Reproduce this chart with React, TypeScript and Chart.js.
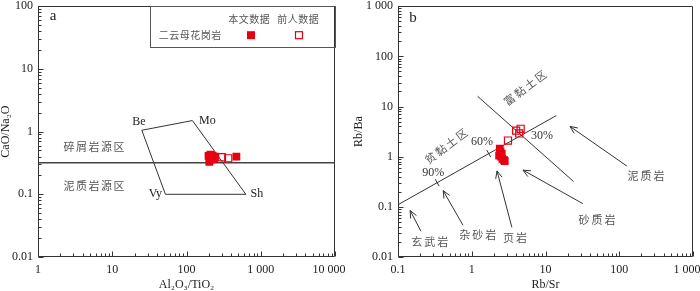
import React, { useEffect, useRef } from 'react';
import { Chart, registerables } from 'chart.js';

Chart.register(...registerables);

const RED = '#e60012';
const SERIF = '"Liberation Serif", "Times New Roman", serif';
const CJK = '"Noto Sans CJK SC", "Noto Sans", sans-serif';
const INK = '#222';
const GREYTXT = '#555';

// ---------- Panel a : CaO/Na2O vs Al2O3/TiO2 ----------
const aMajorX = [1, 10, 100, 1000, 10000];
const aXLabels = ['1', '10', '100', '1 000', '10 000'];
const aMajorY = [0.01, 0.1, 1, 10, 100];
const aYLabels = ['0.01', '0.1', '1', '10', '100'];
const aOwnX = [198, 210, 225, 205, 245, 215, 203, 235, 470];
const aOwnY = [0.41, 0.43, 0.41, 0.38, 0.40, 0.36, 0.33, 0.37, 0.40];
const aPrevX = [300, 365];
const aPrevY = [0.39, 0.375];
const aBoundaryX = [1, 10000];
const aBoundaryY = [0.32, 0.32];
const polyNames = ['Be', 'Mo', 'Sh', 'Vy'];
const polyX = [25, 120, 630, 52];
const polyY = [1.05, 1.5, 0.1, 0.1];
const aZoneNames = ['碎屑岩源区', '泥质岩源区'];
const aZoneX = [5.7, 5.7];
const aZoneY = [0.58, 0.136];
const legendHead = ['本文数据', '前人数据'];
const legendRow = '二云母花岗岩';

// ---------- Panel b : Rb/Ba vs Rb/Sr ----------
const bMajorX = [0.1, 1, 10, 100, 1000];
const bXLabels = ['0.1', '1', '10', '100', '1 000'];
const bMajorY = [0.01, 0.1, 1, 10, 100, 1000];
const bYLabels = ['0.01', '0.1', '1', '10', '100', '1 000'];
const bOwnX = [2.4, 2.45, 2.35, 2.5, 2.6, 2.75, 2.8, 2.55];
const bOwnY = [1.45, 1.25, 1.05, 1.0, 0.9, 0.85, 0.82, 1.15];
const bPrevX = [3.1, 4.0, 4.6, 4.4];
const bPrevY = [2.1, 3.3, 3.6, 2.9];
const mixX = [0.1, 14];
const mixY = [0.11, 6.6];
const clayX = [1.2, 24];
const clayY = [16, 0.32];
const pctLabels = ['90%', '60%', '30%'];
const pctX = [0.30, 1.38, 8.97];
const pctY = [0.475, 1.94, 2.55];
const pctTickX = [0.34, 1.7];
const rockNames = ['玄武岩', '杂砂岩', '页岩', '砂质岩', '泥质岩'];
const rockLabelX = [0.27, 1.21, 3.86, 50, 230];
const rockLabelY = [0.02, 0.028, 0.0237, 0.054, 0.41];
const arrowFromX = [0.205, 0.76, 3.5, 32, 127];
const arrowFromY = [0.0326, 0.043, 0.039, 0.116, 0.65];
const arrowToX = [0.146, 0.41, 2.2, 4.95, 21.5];
const arrowToY = [0.0845, 0.21, 0.52, 0.54, 4.0];
const clayZoneNames = ['贫黏土区', '富黏土区'];
const clayZoneX = [0.448, 5.27];
const clayZoneY = [1.62, 23.6];

// ---------- helpers ----------
function logTicks(majors: number[]) {
  const out: number[] = [];
  for (let i = 0; i < majors.length - 1; i++) {
    for (let k = 1; k < 10; k++) out.push(parseFloat((majors[i] * k).toPrecision(6)));
  }
  out.push(majors[majors.length - 1]);
  return out;
}
function majorIndex(v: number, majors: number[]) {
  return majors.findIndex((m) => Math.abs(m - v) / m < 1e-6);
}
function pts(xs: number[], ys: number[]) {
  return xs.map((x, i) => ({ x, y: ys[i] }));
}
function onLogLine(xs: number[], ys: number[], x: number) {
  const t = (Math.log10(x) - Math.log10(xs[0])) / (Math.log10(xs[1]) - Math.log10(xs[0]));
  return Math.pow(10, Math.log10(ys[0]) + t * (Math.log10(ys[1]) - Math.log10(ys[0])));
}

function axis(majors: number[], labels: string[], title: string, vertical: boolean, size: number) {
  return {
    type: 'logarithmic',
    min: majors[0],
    max: majors[majors.length - 1],
    grid: { display: false, drawTicks: false },
    border: { display: false },
    afterBuildTicks: (s: any) => {
      s.ticks = logTicks(majors).map((value) => ({ value }));
    },
    afterFit: (s: any) => {
      if (vertical) {
        s.width = size;
        s.paddingTop = 0;
        s.paddingBottom = 0;
      } else {
        s.height = size;
        s.paddingLeft = 0;
        s.paddingRight = 0;
      }
    },
    ticks: {
      autoSkip: false,
      maxRotation: 0,
      minRotation: 0,
      padding: vertical ? 5 : 6,
      color: INK,
      font: { family: SERIF, size: 12 },
      callback: (v: any) => {
        const i = majorIndex(Number(v), majors);
        if (i < 0) return '';
        // last horizontal label is pulled inward so it stays inside the frame
        return !vertical && i === majors.length - 1 ? labels[i] + '\u2002\u2002' : labels[i];
      },
    },
    title: {
      display: true,
      text: title,
      color: INK,
      padding: 0,
      font: { family: SERIF, size: 12, lineHeight: 1 },
    },
  };
}

function drawFrame(chart: any, xMaj: number[], yMaj: number[]) {
  const { ctx, chartArea: ca } = chart;
  const sx = chart.scales.x;
  const sy = chart.scales.y;
  const L = Math.round(ca.left) + 0.5;
  const R = Math.round(ca.right) - 0.5;
  const T = Math.round(ca.top) + 0.5;
  const B = Math.round(ca.bottom) - 0.5;
  ctx.save();
  ctx.strokeStyle = '#333';
  ctx.lineWidth = 1;
  ctx.beginPath();
  ctx.rect(L, T, R - L, B - T);
  sx.ticks.forEach((t: any) => {
    const p = Math.round(sx.getPixelForValue(t.value)) + 0.5;
    const len = majorIndex(t.value, xMaj) >= 0 ? 5 : 3;
    ctx.moveTo(p, B);
    ctx.lineTo(p, B - len);
  });
  sy.ticks.forEach((t: any) => {
    const p = Math.round(sy.getPixelForValue(t.value)) + 0.5;
    const len = majorIndex(t.value, yMaj) >= 0 ? 5 : 3;
    ctx.moveTo(L, p);
    ctx.lineTo(L + len, p);
  });
  ctx.stroke();
  ctx.restore();
}

function cjkText(ctx: any, text: string, x: number, y: number, size: number, spacing: number, color = GREYTXT) {
  ctx.save();
  ctx.font = `${size}px ${CJK}`;
  ctx.fillStyle = color;
  ctx.textAlign = 'left';
  ctx.textBaseline = 'middle';
  try { ctx.letterSpacing = `${spacing}px`; } catch (e) { /* ignore */ }
  const w = ctx.measureText(text).width - spacing;
  ctx.fillText(text, x - w / 2, y);
  ctx.restore();
}

const panelAPlugin = {
  id: 'panelA',
  afterDraw(chart: any) {
    const { ctx, chartArea: ca } = chart;
    const sx = chart.scales.x;
    const sy = chart.scales.y;
    drawFrame(chart, aMajorX, aMajorY);
    ctx.save();
    ctx.fillStyle = INK;
    ctx.font = `15px ${SERIF}`;
    ctx.textAlign = 'center';
    ctx.textBaseline = 'alphabetic';
    ctx.fillText('a', ca.left + 15, ca.top + 14);

    const dx = [-3, 15, 11, -10];
    const dy = [-8, 0, 0, 0];
    ctx.font = `12px ${SERIF}`;
    ctx.textBaseline = 'middle';
    polyNames.forEach((n, i) => {
      ctx.fillText(n, sx.getPixelForValue(polyX[i]) + dx[i], sy.getPixelForValue(polyY[i]) + dy[i]);
    });
    ctx.restore();

    aZoneNames.forEach((n, i) => {
      cjkText(ctx, n, sx.getPixelForValue(aZoneX[i]), sy.getPixelForValue(aZoneY[i]), 11, 1.5);
    });

    // legend box
    const R = ca.right;
    ctx.save();
    ctx.strokeStyle = '#555';
    ctx.lineWidth = 1;
    ctx.strokeRect(Math.round(R - 185) + 0.5, Math.round(ca.top) + 0.5, 185, 41);
    ctx.restore();
    cjkText(ctx, legendHead[0], R - 86, ca.top + 13, 10, 0.5);
    cjkText(ctx, legendHead[1], R - 37, ca.top + 13, 10, 0.5);
    cjkText(ctx, legendRow, R - 145, ca.top + 29, 10, 0.5);
    ctx.save();
    ctx.fillStyle = RED;
    ctx.fillRect(R - 88, ca.top + 25, 8, 8);
    ctx.strokeStyle = RED;
    ctx.lineWidth = 1.2;
    ctx.strokeRect(R - 39.5, ca.top + 25.5, 7, 7);
    ctx.restore();
  },
};

function drawArrow(ctx: any, x1: number, y1: number, x2: number, y2: number) {
  const ang = Math.atan2(y2 - y1, x2 - x1);
  const len = 8;
  const spread = 0.42;
  ctx.beginPath();
  ctx.moveTo(x1, y1);
  ctx.lineTo(x2, y2);
  ctx.moveTo(x2 - len * Math.cos(ang - spread), y2 - len * Math.sin(ang - spread));
  ctx.lineTo(x2, y2);
  ctx.lineTo(x2 - len * Math.cos(ang + spread), y2 - len * Math.sin(ang + spread));
  ctx.stroke();
}

const panelBPlugin = {
  id: 'panelB',
  afterDraw(chart: any) {
    const { ctx, chartArea: ca } = chart;
    const sx = chart.scales.x;
    const sy = chart.scales.y;
    drawFrame(chart, bMajorX, bMajorY);
    ctx.save();
    ctx.fillStyle = INK;
    ctx.font = `15px ${SERIF}`;
    ctx.textAlign = 'center';
    ctx.textBaseline = 'alphabetic';
    ctx.fillText('b', ca.left + 15, ca.top + 16);

    // tick marks on mixing line
    const p0 = { x: sx.getPixelForValue(mixX[0]), y: sy.getPixelForValue(mixY[0]) };
    const p1 = { x: sx.getPixelForValue(mixX[1]), y: sy.getPixelForValue(mixY[1]) };
    const L = Math.hypot(p1.x - p0.x, p1.y - p0.y);
    const nx = -(p1.y - p0.y) / L;
    const ny = (p1.x - p0.x) / L;
    ctx.strokeStyle = '#333';
    ctx.lineWidth = 1;
    pctTickX.forEach((v) => {
      const px = sx.getPixelForValue(v);
      const py = sy.getPixelForValue(onLogLine(mixX, mixY, v));
      ctx.beginPath();
      ctx.moveTo(px - nx * 4, py - ny * 4);
      ctx.lineTo(px + nx * 4, py + ny * 4);
      ctx.stroke();
    });

    ctx.font = `12px ${SERIF}`;
    ctx.fillStyle = '#333';
    ctx.textBaseline = 'middle';
    pctLabels.forEach((t, i) => {
      ctx.fillText(t, sx.getPixelForValue(pctX[i]), sy.getPixelForValue(pctY[i]));
    });

    ctx.strokeStyle = '#333';
    ctx.lineWidth = 1;
    rockNames.forEach((_, i) => {
      drawArrow(
        ctx,
        sx.getPixelForValue(arrowFromX[i]),
        sy.getPixelForValue(arrowFromY[i]),
        sx.getPixelForValue(arrowToX[i]),
        sy.getPixelForValue(arrowToY[i])
      );
    });
    ctx.restore();

    rockNames.forEach((n, i) => {
      cjkText(ctx, n, sx.getPixelForValue(rockLabelX[i]), sy.getPixelForValue(rockLabelY[i]), 11, 2);
    });

    clayZoneNames.forEach((n, i) => {
      ctx.save();
      ctx.translate(sx.getPixelForValue(clayZoneX[i]), sy.getPixelForValue(clayZoneY[i]));
      ctx.rotate((-37 * Math.PI) / 180);
      cjkText(ctx, n, 0, 0, 11, 2);
      ctx.restore();
    });
  },
};

function makeConfig(
  datasets: any[],
  xAxis: any,
  yAxis: any,
  padding: any,
  plugin: any
) {
  return {
    type: 'scatter',
    data: { datasets },
    options: {
      animation: false,
      responsive: false,
      maintainAspectRatio: false,
      devicePixelRatio: 1,
      events: [],
      layout: { padding },
      plugins: { legend: { display: false }, tooltip: { enabled: false } },
      scales: { x: xAxis, y: yAxis },
    },
    plugins: [plugin],
  };
}

export default function App() {
  const refA = useRef<HTMLCanvasElement>(null);
  const refB = useRef<HTMLCanvasElement>(null);

  useEffect(() => {
    document.body.style.margin = '0';
    const own = { pointStyle: 'rect', pointRadius: 5.5, backgroundColor: RED, borderColor: RED, borderWidth: 0, showLine: false };
    const prev = { pointStyle: 'rect', pointRadius: 5, backgroundColor: 'rgba(255,255,255,0)', borderColor: RED, borderWidth: 1.2, showLine: false };
    const lineStyle = { showLine: true, pointRadius: 0, borderColor: '#333', borderWidth: 1, tension: 0, fill: false };

    const chartA = new Chart(
      refA.current as any,
      makeConfig(
        [
          { ...own, data: pts(aOwnX, aOwnY) },
          { ...prev, data: pts(aPrevX, aPrevY) },
          { ...lineStyle, borderColor: '#444', borderWidth: 1.5, data: pts(aBoundaryX, aBoundaryY) },
          { ...lineStyle, data: pts([...polyX, polyX[0]], [...polyY, polyY[0]]) },
        ],
        axis(aMajorX, aXLabels, 'Al₂O₃/TiO₂', false, 34),
        axis(aMajorY, aYLabels, 'CaO/Na₂O', true, 38),
        { left: 0, top: 4, right: 15, bottom: 0 },
        panelAPlugin
      ) as any
    );

    const chartB = new Chart(
      refB.current as any,
      makeConfig(
        [
          { ...own, data: pts(bOwnX, bOwnY) },
          { ...prev, data: pts(bPrevX, bPrevY) },
          { ...lineStyle, data: pts(mixX, mixY) },
          { ...lineStyle, data: pts(clayX, clayY) },
        ],
        axis(bMajorX, bXLabels, 'Rb/Sr', false, 34),
        axis(bMajorY, bYLabels, 'Rb/Ba', true, 45),
        { left: 3, top: 4, right: 7, bottom: 0 },
        panelBPlugin
      ) as any
    );

    return () => {
      chartA.destroy();
      chartB.destroy();
    };
  }, []);

  return (
    <div style={{ position: 'fixed', left: 0, top: 0, width: 700, height: 291, background: '#fff' }}>
      <canvas ref={refA} width={350} height={291} style={{ position: 'absolute', left: 0, top: 0, width: 350, height: 291 }} />
      <canvas ref={refB} width={350} height={291} style={{ position: 'absolute', left: 350, top: 0, width: 350, height: 291 }} />
    </div>
  );
}
